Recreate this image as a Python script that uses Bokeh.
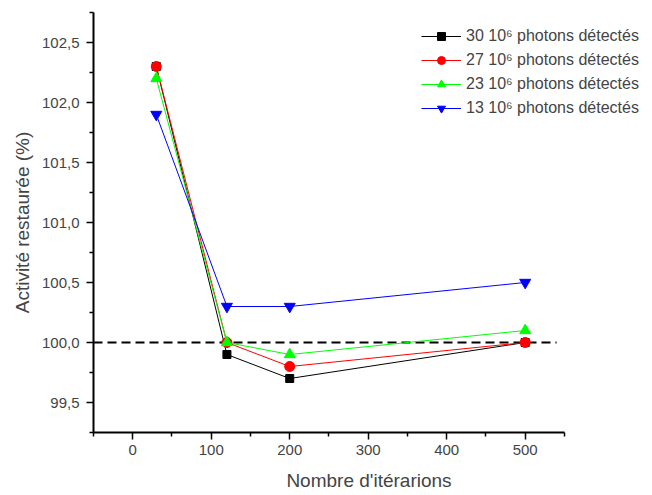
from bokeh.plotting import figure
from bokeh.models import (Range1d, FixedTicker, CustomJSTickFormatter, Legend, LegendItem)
from bokeh.embed import file_html
from bokeh.resources import INLINE

# ---- data ----
iterations = [30, 120, 200, 500]
act_30 = [102.3, 99.9, 99.7, 100.0]
act_27 = [102.3, 100.0, 99.8, 100.0]
act_23 = [102.2, 100.0, 99.9, 100.1]
act_13 = [101.9, 100.3, 100.3, 100.5]
ref_x = [-50, 540]
ref_y = [100.0, 100.0]
labels = ["30 10\u2076 photons détectés", "27 10\u2076 photons détectés",
          "23 10\u2076 photons détectés", "13 10\u2076 photons détectés"]
x_ticks = [0, 100, 200, 300, 400, 500]
x_minor = [-50, 50, 150, 250, 350, 450, 550]
y_ticks = [99.5, 100.0, 100.5, 101.0, 101.5, 102.0, 102.5]
y_minor = [99.25, 99.75, 100.25, 100.75, 101.25, 101.75, 102.25, 102.75]

FONT = "Liberation Sans"

# frame extends to the right so the legend is not clipped; the axis line is bounded
p = figure(width=650, height=493, output_backend="svg", toolbar_location=None,
           x_range=Range1d(-50, 652), y_range=Range1d(99.25, 102.75),
           min_border_left=93, min_border_right=6, min_border_top=12, min_border_bottom=60)
p.outline_line_color = None
p.xgrid.visible = False
p.ygrid.visible = False
p.background_fill_color = "white"
p.border_fill_color = "white"

p.line(ref_x, ref_y, line_color="black", line_width=2, line_dash="9 5")

series = [
    (act_30, "black", "square", 8),
    (act_27, "#ff0000", "circle", 10),
    (act_23, "#00ff00", "triangle", 11),
    (act_13, "#0000ff", "inverted_triangle", 11),
]
items = []
for (vals, col, mk, sz), lab in zip(series, labels):
    l = p.line(iterations, vals, line_color=col, line_width=1)
    s = p.scatter(iterations, vals, marker=mk, size=sz, fill_color=col, line_color=col)
    items.append(LegendItem(label=lab, renderers=[l, s]))

legend = Legend(items=items, location=(328, 314), border_line_color=None,
                background_fill_alpha=0, label_text_font=FONT, label_text_font_size="16px",
                glyph_width=40, glyph_height=20, label_height=20, spacing=4,
                padding=0, margin=0, label_standoff=5)
p.add_layout(legend, "center")

for ax in (p.xaxis[0], p.yaxis[0]):
    ax.axis_line_width = 2
    ax.major_tick_line_width = 1.5
    ax.minor_tick_line_width = 1.5
    ax.major_tick_in = 0
    ax.major_tick_out = 7
    ax.minor_tick_in = 0
    ax.minor_tick_out = 4
    ax.major_label_text_font = FONT
    ax.major_label_text_font_size = "15px"
    ax.axis_label_text_font = FONT
    ax.axis_label_text_font_size = "19px"
    ax.axis_label_text_font_style = "normal"

p.xaxis.bounds = (-50, 550)
p.xaxis.ticker = FixedTicker(ticks=x_ticks, minor_ticks=x_minor)
p.yaxis.ticker = FixedTicker(ticks=y_ticks, minor_ticks=y_minor)
p.yaxis.formatter = CustomJSTickFormatter(code="return tick.toFixed(1).replace('.', ',');")
p.xaxis.axis_label = "Nombre d'itérarions"
p.yaxis.axis_label = "Activité restaurée (%)"
p.xaxis.major_label_standoff = 5
p.yaxis.major_label_standoff = 7
p.xaxis.axis_label_standoff = 12
p.yaxis.axis_label_standoff = 6

open("out.html", "w").write(file_html(p, INLINE))
